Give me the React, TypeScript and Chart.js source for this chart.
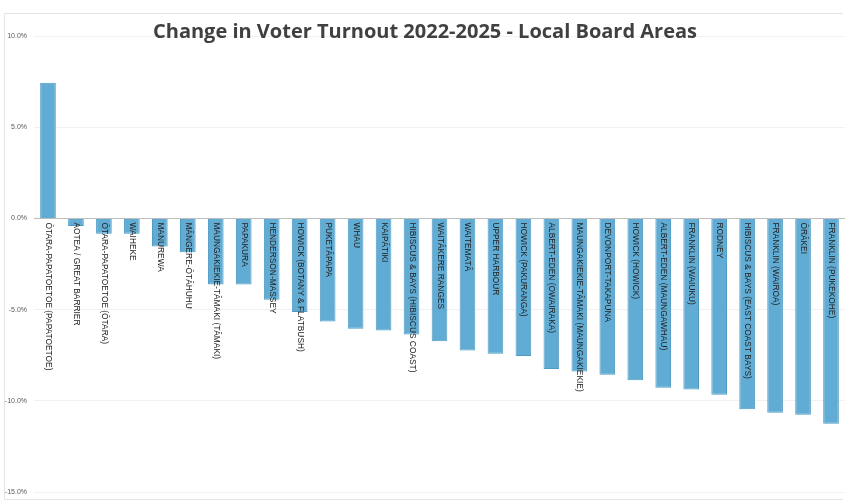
import React, { useEffect, useRef } from "react";
import { Chart, registerables } from "chart.js";

Chart.register(...registerables);

const TITLE = "Change in Voter Turnout 2022-2025 - Local Board Areas";

const areas: string[] = [
  "ŌTARA-PAPATOETOE (PAPATOETOE)",
  "AOTEA / GREAT BARRIER",
  "ŌTARA-PAPATOETOE (ŌTARA)",
  "WAIHEKE",
  "MANUREWA",
  "MĀNGERE-ŌTĀHUHU",
  "MAUNGAKIEKIE-TĀMAKI (TĀMAKI)",
  "PAPAKURA",
  "HENDERSON-MASSEY",
  "HOWICK (BOTANY & FLATBUSH)",
  "PUKETĀPAPA",
  "WHAU",
  "KAIPĀTIKI",
  "HIBISCUS & BAYS (HIBISCUS COAST)",
  "WAITĀKERE RANGES",
  "WAITEMATĀ",
  "UPPER HARBOUR",
  "HOWICK (PAKURANGA)",
  "ALBERT-EDEN (OWAIRAKA)",
  "MAUNGAKIEKIE-TĀMAKI (MAUNGAKIEKIE)",
  "DEVONPORT-TAKAPUNA",
  "HOWICK (HOWICK)",
  "ALBERT-EDEN (MAUNGAWHAU)",
  "FRANKLIN (WAIUKU)",
  "RODNEY",
  "HIBISCUS & BAYS (EAST COAST BAYS)",
  "FRANKLIN (WAIROA)",
  "ŌRĀKEI",
  "FRANKLIN (PUKEKOHE)",
];

// Percentage-point change in turnout, 2022 to 2025
const turnoutChange: number[] = [
  7.44, -0.42, -0.84, -0.84, -1.54, -1.85, -3.62, -3.62, -4.46, -5.13,
  -5.65, -6.05, -6.14, -6.36, -6.74, -7.24, -7.42, -7.55, -8.26, -8.39,
  -8.57, -8.88, -9.28, -9.38, -9.67, -10.47, -10.65, -10.76, -11.26,
];

const yTicks: number[] = [10, 5, 0, -5, -10, -15];

const W = 852;
const H = 504;

// Frame, title and the rotated category names that hang below the zero line
const decorations = {
  id: "decorations",
  beforeDraw(chart: Chart) {
    const ctx = chart.ctx;
    ctx.save();
    ctx.fillStyle = "#ffffff";
    ctx.fillRect(0, 0, W, H);
    ctx.strokeStyle = "#e4e4e4";
    ctx.lineWidth = 1;
    ctx.beginPath();
    ctx.moveTo(843, 13.5);
    ctx.lineTo(4.5, 13.5);
    ctx.lineTo(4.5, 499.5);
    ctx.lineTo(843, 499.5);
    ctx.stroke();
    ctx.restore();
  },
  afterDatasetsDraw(chart: Chart) {
    const ctx = chart.ctx;
    const xs = chart.scales.x;
    const ys = chart.scales.y;
    const y0 = ys.getPixelForValue(0) + 4;
    ctx.save();
    ctx.fillStyle = "#222222";
    ctx.font = "9px 'Liberation Sans', Arial, sans-serif";
    ctx.textAlign = "left";
    ctx.textBaseline = "middle";
    areas.forEach((name, i) => {
      const x = xs.getPixelForValue(i);
      ctx.save();
      ctx.translate(x + 0.5, y0);
      ctx.rotate(Math.PI / 2);
      ctx.scale(0.93, 1);
      ctx.fillText(name, 0, 0);
      ctx.restore();
    });
    ctx.restore();

    ctx.save();
    ctx.fillStyle = "#404040";
    ctx.font = "bold 20px 'Open Sans', 'Liberation Sans', sans-serif";
    ctx.textAlign = "center";
    ctx.textBaseline = "middle";
    ctx.fillText(TITLE, 425, 32);
    ctx.restore();
  },
};

export default function App() {
  const canvasRef = useRef<HTMLCanvasElement | null>(null);

  useEffect(() => {
    if (!canvasRef.current) return;
    const chart = new Chart(canvasRef.current, {
      type: "bar",
      data: {
        labels: areas,
        datasets: [
          {
            data: turnoutChange,
            backgroundColor: "#61acd4",
            borderColor: "#4f9bc4",
            borderWidth: 1,
            categoryPercentage: 1,
            barPercentage: 0.56,
          },
        ],
      },
      options: {
        responsive: false,
        animation: false,
        devicePixelRatio: 1,
        layout: { padding: { top: 36, bottom: 12, right: 7, left: 0 } },
        plugins: {
          legend: { display: false },
          title: { display: false },
          tooltip: { enabled: false },
        },
        scales: {
          x: { display: false },
          y: {
            min: -15,
            max: 10,
            afterFit(scale: any) {
              scale.width = 34;
            },
            afterBuildTicks(scale: any) {
              scale.ticks = yTicks.map((v) => ({ value: v }));
            },
            border: { display: false },
            grid: {
              drawTicks: false,
              color: (c: any) => (c.tick && c.tick.value === 0 ? "#bdbdbd" : "#f1f1f1"),
              lineWidth: 1,
            },
            ticks: {
              padding: 7,
              color: "#595959",
              font: { size: 7, family: "'Liberation Sans', Arial, sans-serif" },
              callback: (v: any) => Number(v).toFixed(1) + "%",
            },
          },
        },
      },
      plugins: [decorations],
    });
    return () => chart.destroy();
  }, []);

  return (
    <div style={{ position: "absolute", left: 0, top: 0, width: W, height: H, background: "#fff" }}>
      <canvas ref={canvasRef} width={W} height={H} style={{ display: "block" }} />
    </div>
  );
}
